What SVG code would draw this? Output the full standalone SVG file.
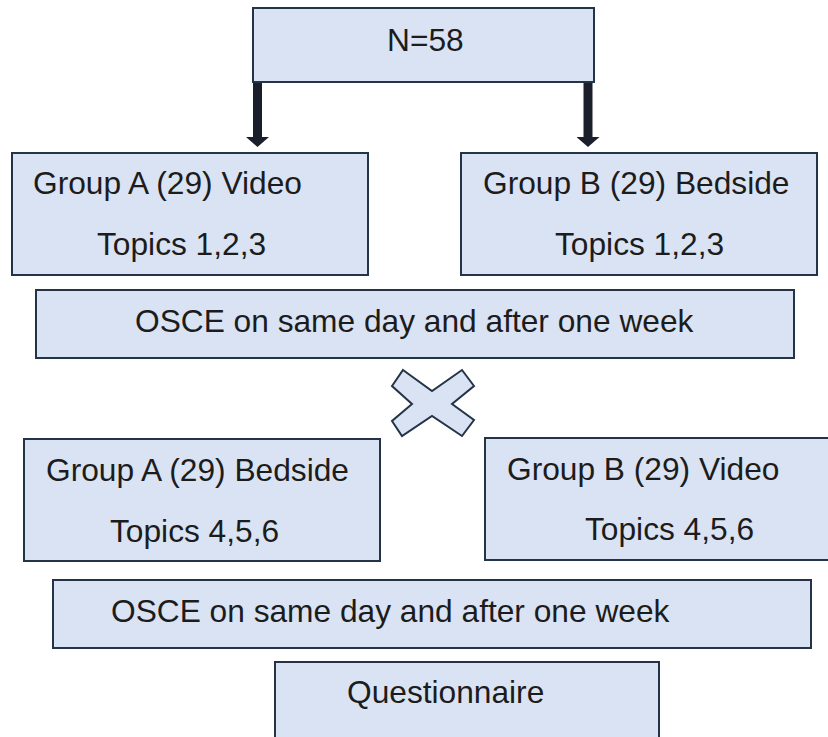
<svg xmlns="http://www.w3.org/2000/svg" width="828" height="737" viewBox="0 0 828 737">
  <style>
    .box { fill: #dae3f3; stroke: #243447; stroke-width: 2; }
    .lbl { font-family: "Liberation Sans", Arial, sans-serif; font-size: 31.7px; fill: #1c1c1c; }
    .arrow { stroke: #1a1f2b; stroke-width: 9; fill: none; }
  </style>
  <defs>
    <marker id="head" markerUnits="userSpaceOnUse" viewBox="0 0 10 23" refX="0" refY="11.5" markerWidth="10" markerHeight="23" orient="auto">
      <path d="M0,0 L10,11.5 L0,23 z" fill="#1a1f2b"/>
    </marker>
  </defs>
  <rect width="828" height="737" fill="#ffffff"/>

  <g id="connectors">
    <line class="arrow" x1="257.5" y1="83" x2="257.5" y2="137" marker-end="url(#head)"/>
    <line class="arrow" x1="588" y1="83" x2="588" y2="137" marker-end="url(#head)"/>
  </g>

  <g id="n58">
    <rect class="box" x="253" y="8" width="341" height="74"/>
    <text class="lbl" x="387" y="51">N=58</text>
  </g>

  <g id="groupA1">
    <rect class="box" x="12" y="153" width="356" height="122"/>
    <text class="lbl" x="33" y="194">Group A (29) Video</text>
    <text class="lbl" x="97" y="255">Topics 1,2,3</text>
  </g>

  <g id="groupB1">
    <rect class="box" x="461" y="153" width="356" height="122"/>
    <text class="lbl" x="483" y="194">Group B (29) Bedside</text>
    <text class="lbl" x="555" y="255">Topics 1,2,3</text>
  </g>

  <g id="osce1">
    <rect class="box" x="36" y="290" width="758" height="68"/>
    <text class="lbl" x="135" y="332">OSCE on same day and after one week</text>
  </g>

  <g id="crossover">
    <polygon class="box" points="403,370 432,391 462,370 474,386 452,404 474,420 462,436 432,416 402,436 392,421 412,404 392,386"/>
  </g>

  <g id="groupA2">
    <rect class="box" x="24" y="439" width="356" height="122"/>
    <text class="lbl" x="46" y="481">Group A (29) Bedside</text>
    <text class="lbl" x="110" y="542">Topics 4,5,6</text>
  </g>

  <g id="groupB2">
    <rect class="box" x="485" y="438" width="360" height="122"/>
    <text class="lbl" x="507" y="480">Group B (29) Video</text>
    <text class="lbl" x="585" y="540">Topics 4,5,6</text>
  </g>

  <g id="osce2">
    <rect class="box" x="53" y="580" width="758" height="68"/>
    <text class="lbl" x="111" y="622">OSCE on same day and after one week</text>
  </g>

  <g id="questionnaire">
    <rect class="box" x="275" y="662" width="384" height="100"/>
    <text class="lbl" x="347" y="703">Questionnaire</text>
  </g>
</svg>
